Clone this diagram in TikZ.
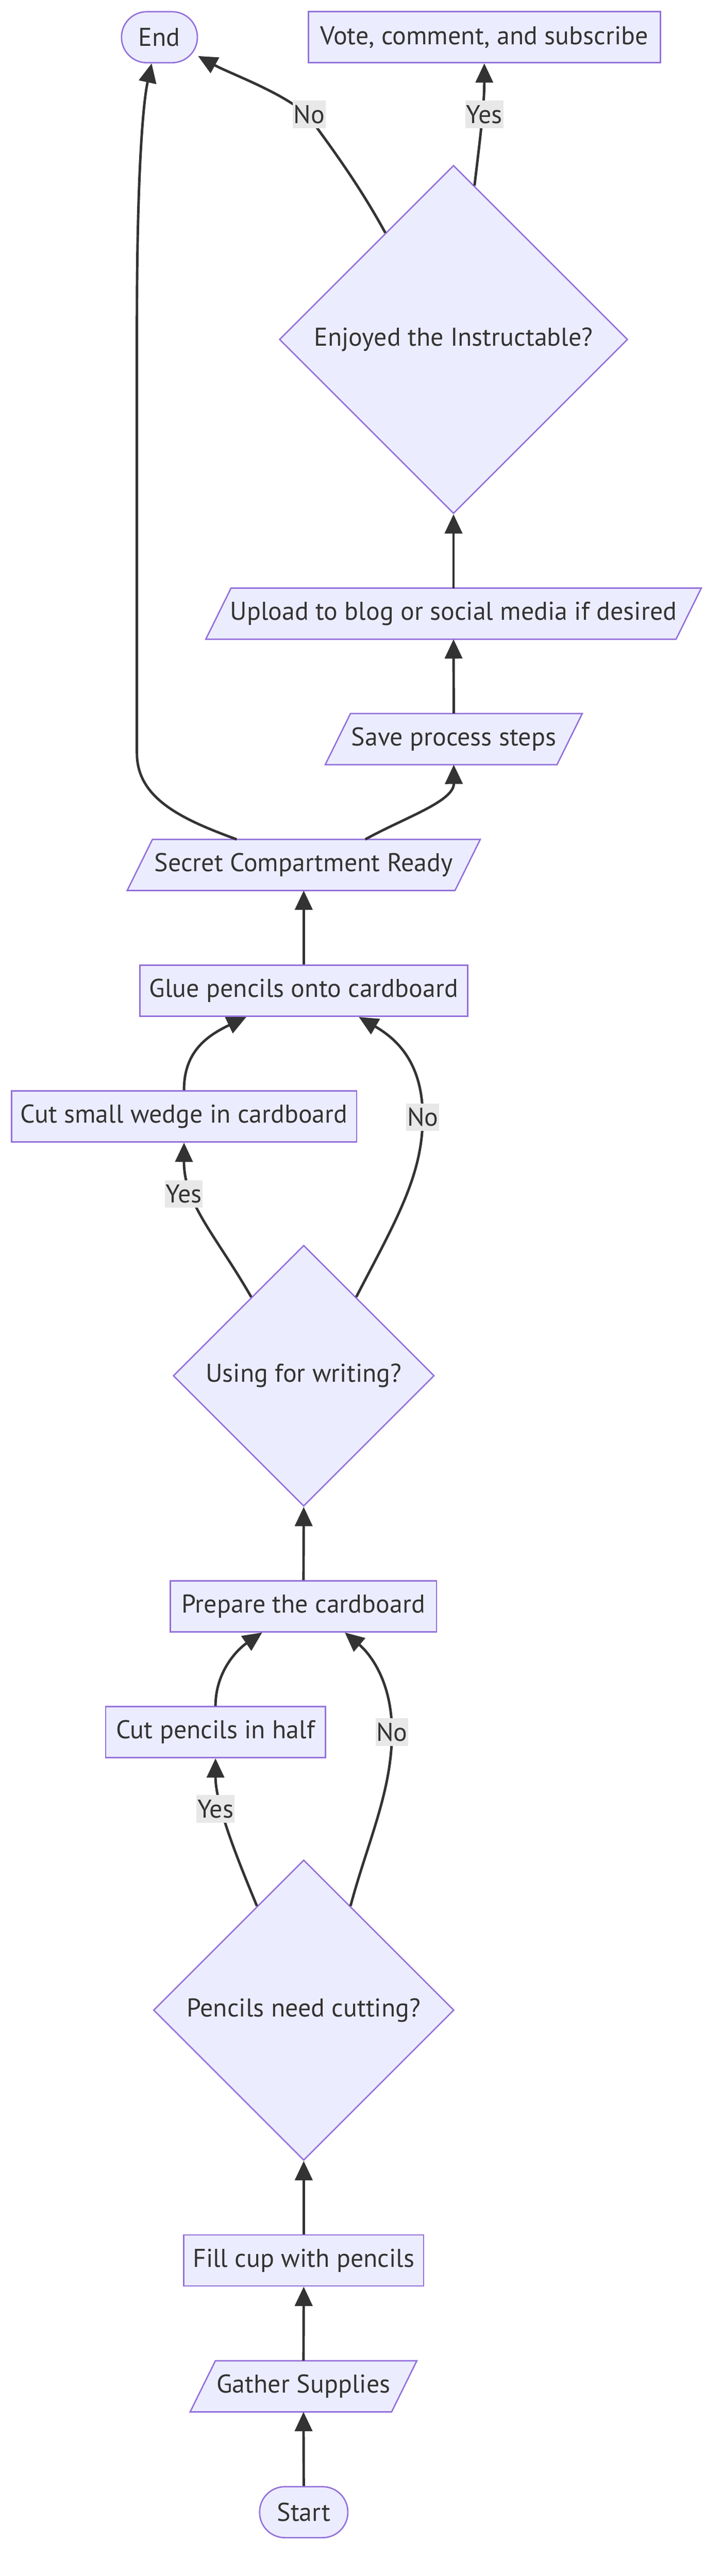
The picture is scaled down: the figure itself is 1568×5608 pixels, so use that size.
\documentclass[tikz,border=0pt]{standalone}
\usepackage{fontspec}
\setmainfont{PT Sans}
\usetikzlibrary{arrows.meta,shapes.geometric,calc}
\definecolor{nodefill}{HTML}{ECECFF}
\definecolor{nodeline}{HTML}{9370DB}
\definecolor{edgecol}{HTML}{333333}
\definecolor{labelbg}{HTML}{E8E8E8}
\pgfdeclarelayer{bg}
\pgfsetlayers{bg,main}
\begin{document}
\begin{tikzpicture}[x=1pt,y=-1pt,
  txt/.style={text=edgecol,font=\fontsize{56}{66}\selectfont},
  base/.style={txt,fill=nodefill,draw=nodeline,line width=3pt,inner sep=0pt},
  box/.style={base,rectangle,minimum height=111pt},
  term/.style={base,rectangle,rounded corners=55pt,minimum height=111pt},
  decision/.style={base,diamond,aspect=1},
  paratext/.style={txt,rectangle,inner sep=0pt,minimum height=111pt},
  parashape/.style={fill=nodefill,draw=nodeline,line width=3pt},
  edge/.style={draw=edgecol,line width=5.5pt,-{Triangle[length=42pt,width=38pt]}},
  lbl/.style={txt,fill=labelbg,inner xsep=2pt,inner ysep=0pt,minimum height=60pt}
]
\useasboundingbox (0,0) rectangle (1568,5608);

% nodes
\node[term,minimum width=165pt] (end) at (347,81) {End};
\node[box,minimum width=766pt] (vote) at (1054,81) {Vote, comment, and subscribe};
\node[decision,minimum width=758pt,minimum height=758pt] (enjoy) at (987,739) {Enjoyed the Instructable?};
\node[paratext,minimum width=1023pt] (upload) at (987,1336) {Upload to blog or social media if desired};
\node[paratext,minimum width=504pt] (save) at (987.5,1609) {Save process steps};
\node[paratext,minimum width=713pt] (secret) at (661,1883) {Secret Compartment Ready};
\node[box,minimum width=713pt] (glue) at (661,2157) {Glue pencils onto cardboard};
\node[box,minimum width=751pt] (wedge) at (400.5,2430.5) {Cut small wedge in cardboard};
\node[decision,minimum width=568pt,minimum height=568pt] (using) at (661,2995) {Using for writing?};
\node[box,minimum width=579pt] (prep) at (660.5,3497) {Prepare the cardboard};
\node[box,minimum width=478pt] (cutp) at (469,3771) {Cut pencils in half};
\node[decision,minimum width=654pt,minimum height=654pt] (cutq) at (661,4376) {Pencils need cutting?};
\node[box,minimum width=522pt] (fill) at (661,4921) {Fill cup with pencils};
\node[paratext,minimum width=438pt] (gather) at (660.5,5195) {Gather Supplies};
\node[term,minimum width=192pt] (start) at (661,5469) {Start};

% background and parallelogram outlines
\begin{pgfonlayer}{bg}
\fill[white] (0,0) rectangle (1568,5608);
\foreach \n in {upload,save,secret,gather}{
  \path[parashape] ([xshift=-27.5pt]\n.south west) -- ([xshift=-27.5pt]\n.south east)
    -- ([xshift=27.5pt]\n.north east) -- ([xshift=27.5pt]\n.north west) -- cycle;
}
\end{pgfonlayer}

% edges
\draw[edge] (start.north) -- (gather.south);
\draw[edge] (gather.north) -- (fill.south);
\draw[edge] (fill.north) -- (cutq.south);
\draw[edge] ($(cutq.north)!0.31!(cutq.west)$) .. controls (520,4055) and (469,3930) .. (cutp.south);
\draw[edge] ($(cutq.north)!0.31!(cutq.east)$) .. controls (800,4010) and (853,3900) .. (853,3771)
  .. controls (853,3660) and (805,3600) .. ([xshift=90pt]prep.south);
\draw[edge] (cutp.north) .. controls (469,3640) and (515,3592) .. ([xshift=-90pt]prep.south);
\draw[edge] (prep.north) -- (using.south);
\draw[edge] ($(using.north)!0.4!(using.west)$) .. controls (470,2690) and (400,2620) .. (wedge.south);
\draw[edge] ($(using.north)!0.4!(using.east)$) .. controls (860,2660) and (920,2560) .. (920,2432)
  .. controls (920,2310) and (860,2260) .. ([xshift=120pt]glue.south);
\draw[edge] (wedge.north) .. controls (400,2290) and (450,2255) .. ([xshift=-125pt]glue.south);
\draw[edge] (glue.north) -- (secret.south);
\draw[edge] ([xshift=134pt]secret.north) .. controls (880,1780) and (988,1745) .. (save.south);
\draw[edge] (save.north) -- (upload.south);
\draw[edge] (upload.north) -- (enjoy.south);
\draw[edge] ($(enjoy.north)!0.12!(enjoy.east)$) .. controls (1045,300) and (1054,230) .. (vote.south);
\draw[edge] ($(enjoy.north)!0.39!(enjoy.west)$) .. controls (780,400) and (720,320) .. (673,255)
  .. controls (625,205) and (500,160) .. ($(end.center)+(84,41)$);
\draw[edge] ([xshift=-146pt]secret.north) .. controls (400,1785) and (298,1740) .. (298,1640)
  -- (298,700) .. controls (298,400) and (310,230) .. ([xshift=-17pt]end.south);

% edge labels
\node[lbl] (l1) at (1054,249) {Yes};
\node[lbl] (l2) at (673,249) {No};
\node[lbl] (l3) at (400,2599) {Yes};
\node[lbl] (l4) at (920,2432) {No};
\node[lbl] (l5) at (469,3938) {Yes};
\node[lbl] (l6) at (853,3771) {No};
\end{tikzpicture}
\end{document}
